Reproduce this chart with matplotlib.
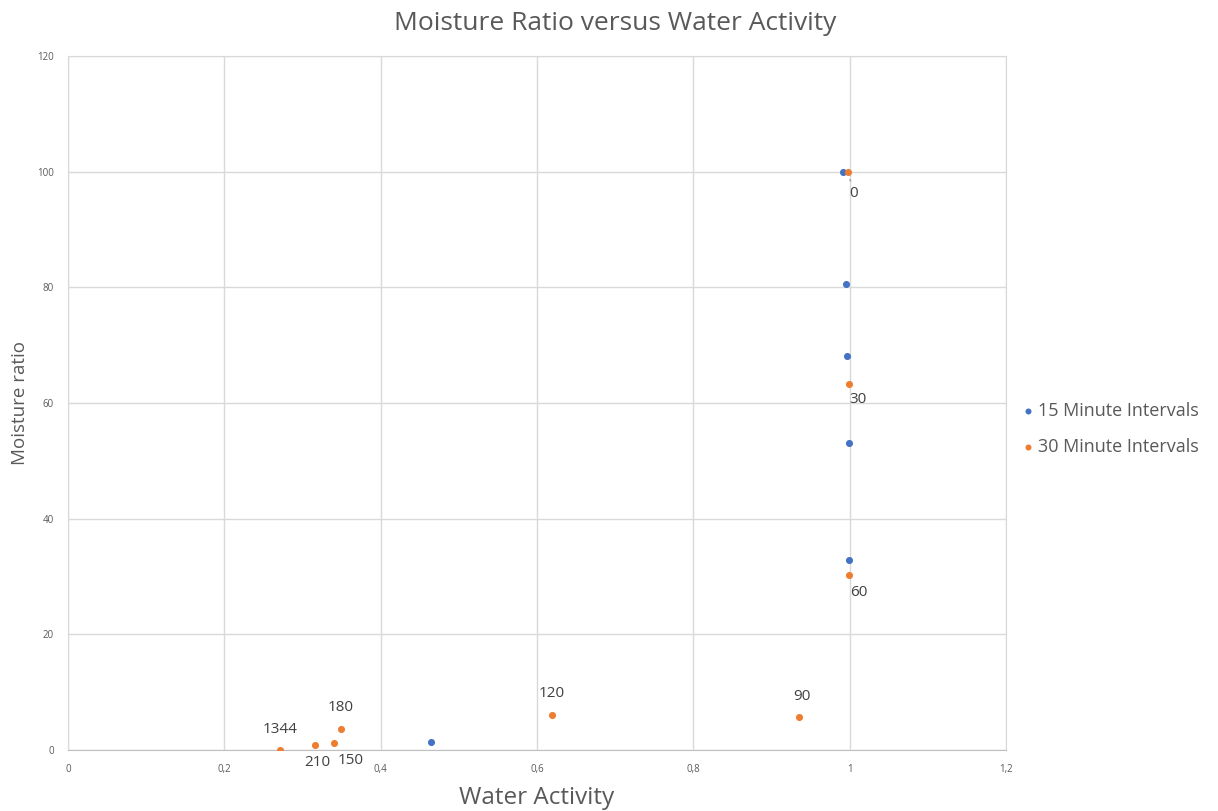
import matplotlib
matplotlib.use("Agg")
import matplotlib.pyplot as plt
from matplotlib.ticker import FuncFormatter

plt.rcParams['font.family'] = ['Open Sans', 'DejaVu Sans']

# 15-minute sampling
aw_15 = [0.991, 0.995, 0.997, 0.9995, 0.9995, 0.464]
mr_15 = [100.0, 80.6, 68.2, 53.1, 32.9, 1.4]

# 30-minute sampling, with drying time (min) as point labels
aw_30 = [0.998, 0.9995, 0.9995, 0.935, 0.619, 0.340, 0.349, 0.316, 0.271]
mr_30 = [100.0, 63.3, 30.3, 5.7, 6.1, 1.15, 3.7, 0.8, 0.0]
time_30 = ["0", "30", "60", "90", "120", "150", "180", "210", "1344"]
# label placement: offsets in points
label_offsets = [(4, -16), (6, -11), (7, -13), (2, 15), (0, 15), (12, -12), (0, 15), (2, -12), (0, 15)]

x_ticks = [0, 0.2, 0.4, 0.6, 0.8, 1.0, 1.2]
y_ticks = [0, 20, 40, 60, 80, 100, 120]

BLUE = "#4472C4"
ORANGE = "#ED7D31"
TEXT = "#595959"
GRID = "#D9D9D9"

fig = plt.figure(figsize=(12.18, 8.11), dpi=100)
ax = fig.add_axes([68 / 1218, 1 - 750 / 811, (1006 - 68) / 1218, (750 - 56) / 811])

ax.scatter(aw_15, mr_15, s=26, color=BLUE, zorder=3, label="15 Minute Intervals", linewidths=0)
ax.scatter(aw_30, mr_30, s=26, color=ORANGE, zorder=4, label="30 Minute Intervals", linewidths=0)

for x, y, t, (dx, dy) in zip(aw_30, mr_30, time_30, label_offsets):
    if t == "0":
        ax.annotate(t, (x, y), xytext=(dx, dy), textcoords="offset points",
                    ha="center", va="center", fontsize=11, color="#404040",
                    arrowprops=dict(arrowstyle="-", color="#A6A6A6", lw=1.2,
                                    shrinkA=2, shrinkB=6))
    else:
        ax.annotate(t, (x, y), xytext=(dx, dy), textcoords="offset points",
                    ha="center", va="center", fontsize=11, color="#404040")

ax.set_xlim(0, 1.2)
ax.set_ylim(0, 120)
ax.set_xticks(x_ticks)
ax.set_yticks(y_ticks)
ax.xaxis.set_major_formatter(FuncFormatter(lambda v, p: ("%g" % v).replace(".", ",")))
ax.yaxis.set_major_formatter(FuncFormatter(lambda v, p: "%d" % v))
ax.tick_params(axis="both", length=0, labelsize=7, labelcolor=TEXT, pad=10)
ax.grid(True, color=GRID, lw=1)
ax.set_axisbelow(True)
for side in ["top", "right", "left"]:
    ax.spines[side].set_color(GRID)
ax.spines["bottom"].set_color("#BFBFBF")

fig.suptitle("Moisture Ratio versus Water Activity", fontsize=19, color=TEXT,
             x=615 / 1218, y=1 - 23 / 811, va="center")
ax.set_xlabel("Water Activity", fontsize=17.5, color=TEXT)
ax.xaxis.set_label_coords(0.5, (750 - 798) / 694)
ax.xaxis.label.set_va("center")
ax.set_ylabel("Moisture ratio", fontsize=13.5, color=TEXT)
ax.yaxis.set_label_coords((20 - 68) / 938, 0.5)
ax.yaxis.label.set_va("center")

leg = ax.legend(loc="center left", bbox_to_anchor=(0.997, 0.4625), frameon=False,
                fontsize=13, handletextpad=0.05, markerscale=0.85, labelspacing=1.0,
                handlelength=1.0)
for txt in leg.get_texts():
    txt.set_color(TEXT)

fig.savefig("out.png", dpi=100)
